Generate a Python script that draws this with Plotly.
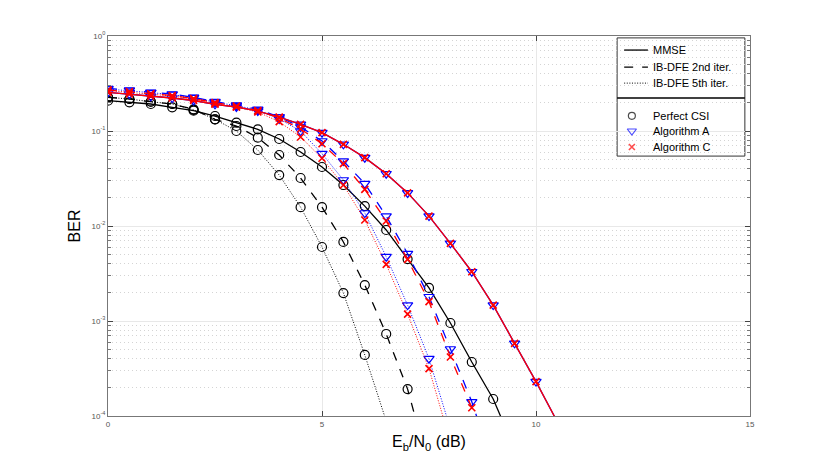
import plotly.graph_objs as go

# Eb/N0 points (dB), every 0.5 dB
snr = [i * 0.5 for i in range(22)]

# perfect CSI (black, circles)
mmse_pcsi = [0.2085, 0.2005, 0.1924, 0.1776, 0.1635, 0.1438, 0.1223, 0.1042, 0.0824, 0.0601,
             0.0418, 0.0270, 0.0162, 0.00908, 0.00449, 0.00223, 0.000953, 0.000370, 0.000151, 0.000045]
ibdfe2_pcsi = [0.2263, 0.2172, 0.2034, 0.1924, 0.1692, 0.1328, 0.1129, 0.0850, 0.0559, 0.0320,
               0.0158, 0.00679, 0.00239, 0.000730, 0.000192, 0.0000284]
ibdfe5_pcsi = [0.2263, 0.2172, 0.2034, 0.1924, 0.1670, 0.1328, 0.1000, 0.0631, 0.0344, 0.0158,
               0.00601, 0.00197, 0.000439, 0.0000886]

# Algorithm A (blue, triangles)
mmse_alg_a = [0.2555, 0.2452, 0.2319, 0.2225, 0.2095, 0.1910, 0.1789, 0.1623, 0.1404, 0.1176, 0.0960,
              0.0724, 0.0524, 0.0355, 0.0223, 0.0127, 0.00657, 0.00330, 0.00147, 0.000582, 0.000230, 0.0000865]
ibdfe2_alg_a = [0.280, 0.270, 0.2555, 0.2452, 0.2263, 0.2034, 0.1878, 0.1692, 0.1404, 0.1102,
                0.0785, 0.0483, 0.0279, 0.0127, 0.00511, 0.00180, 0.000507, 0.000141, 0.0000298]
ibdfe5_alg_a = [0.2768, 0.2669, 0.2530, 0.2422, 0.2241, 0.2010, 0.1846, 0.1664, 0.1338, 0.1000,
                0.0577, 0.0305, 0.0137, 0.00475, 0.00147, 0.000401, 0.0000730]

# Algorithm C (red, crosses)
mmse_alg_c = [0.2555, 0.2452, 0.2319, 0.2225, 0.2095, 0.1910, 0.1789, 0.1623, 0.1404, 0.1176, 0.0960,
              0.0724, 0.0524, 0.0355, 0.0223, 0.0127, 0.00657, 0.00330, 0.00147, 0.000582, 0.000230, 0.0000865]
ibdfe2_alg_c = [0.270, 0.2604, 0.2469, 0.2364, 0.2198, 0.1986, 0.1833, 0.1643, 0.1370, 0.1050,
                0.0735, 0.0453, 0.0243, 0.01129, 0.00446, 0.00160, 0.000418, 0.000122, 0.0000264]
ibdfe5_alg_c = [0.2669, 0.2573, 0.2440, 0.2336, 0.2172, 0.1948, 0.1789, 0.1585, 0.1253, 0.0865,
                0.0516, 0.0270, 0.01156, 0.00395, 0.00118, 0.000315, 0.0000532]

y_ticks = [1e-4, 1e-3, 1e-2, 1e-1, 1]
y_ticktext = ["10<sup>-4</sup>", "10<sup>-3</sup>", "10<sup>-2</sup>", "10<sup>-1</sup>", "10<sup>0</sup>"]
x_ticks = [0, 5, 10, 15]

legend_lines = ["MMSE", "IB-DFE 2nd iter.", "IB-DFE 5th iter."]
legend_marks = ["Perfect CSI", "Algorithm A", "Algorithm C"]

DOT = "1px,1.6px"  # matlab ':' style

fig = go.Figure()

series = [
    (mmse_pcsi, "black", "solid", "circle-open"),
    (ibdfe2_pcsi, "black", "dash", "circle-open"),
    (ibdfe5_pcsi, "black", DOT, "circle-open"),
    (mmse_alg_a, "#0000ff", "solid", "triangle-down-open"),
    (ibdfe2_alg_a, "#0000ff", "dash", "triangle-down-open"),
    (ibdfe5_alg_a, "#0000ff", DOT, "triangle-down-open"),
    (mmse_alg_c, "#ff0000", "solid", "x-thin-open"),
    (ibdfe2_alg_c, "#ff0000", "dash", "x-thin-open"),
    (ibdfe5_alg_c, "#ff0000", DOT, "x-thin-open"),
]
for vals, col, dash, sym in series:
    fig.add_trace(go.Scatter(
        x=snr[:len(vals)], y=vals, mode="lines+markers",
        line=dict(color=col, dash=dash, width=1.3 if dash != DOT else 1),
        marker=dict(symbol=sym, size=9 if sym != "x-thin-open" else 7,
                    color=col, line=dict(color=col, width=1.6 if sym == "x-thin-open" else 1.2)),
        showlegend=False,
    ))

# hand-made legend (two stacked MATLAB legends), paper coordinates
box = dict(x0=0.793, x1=0.992, y0=0.684, y1=0.995)
line_y = [0.963, 0.918, 0.876]
mark_y = [0.790, 0.750, 0.708]
text_x = 0.846

shapes = [dict(type="rect", xref="paper", yref="paper", **box,
               line=dict(color="#333", width=1), fillcolor="white", layer="between")]
for yy, dash in zip(line_y, ["solid", "dash", DOT]):
    shapes.append(dict(type="line", xref="paper", yref="paper", x0=0.804, x1=0.841, y0=yy, y1=yy,
                       line=dict(color="black", width=1.3 if dash != DOT else 1, dash=dash), layer="above"))
shapes.append(dict(type="line", xref="paper", yref="paper", x0=box["x0"], x1=box["x1"], y0=0.837, y1=0.837,
                   line=dict(color="black", width=1.6), layer="above"))

annotations = []
for yy, txt in zip(line_y + mark_y, legend_lines + legend_marks):
    annotations.append(dict(xref="paper", yref="paper", x=text_x, y=yy, text=txt, showarrow=False,
                            xanchor="left", yanchor="middle", font=dict(size=11, color="black")))

fig.add_trace(go.Scatter(
    x=[0.816, 0.816, 0.816], y=mark_y, xaxis="x2", yaxis="y2", mode="markers",
    marker=dict(symbol=["circle-open", "triangle-down-open", "x-thin-open"], size=[7, 8, 6],
                color=["black", "#0000ff", "#ff0000"],
                line=dict(color=["black", "#0000ff", "#ff0000"], width=[1.2, 1.2, 1.6])),
    showlegend=False, hoverinfo="skip", cliponaxis=False,
))

fig.update_layout(
    width=830, height=467,
    margin=dict(l=100, r=88, t=28, b=59),
    paper_bgcolor="white", plot_bgcolor="white",
    font=dict(family="Liberation Sans, Arial", color="black"),
    showlegend=False,
    shapes=shapes, annotations=annotations,
    xaxis=dict(
        range=[0, 15], tickvals=x_ticks, ticks="inside", ticklen=5,
        tickfont=dict(size=8, color="#555"),
        showgrid=True, gridcolor="#e8e8e8", gridwidth=1,
        showline=True, linecolor="#777", mirror="ticks", zeroline=False,
        title=dict(text="E<sub>b</sub>/N<sub>0</sub> (dB)", font=dict(size=16), standoff=8),
    ),
    yaxis=dict(
        type="log", range=[-4, 0], tickvals=y_ticks, ticktext=y_ticktext,
        ticks="inside", ticklen=5, tickfont=dict(size=8, color="#555"),
        showgrid=True, gridcolor="#e8e8e8", gridwidth=1,
        showline=True, linecolor="#777", mirror="ticks", zeroline=False,
        minor=dict(tickvals=[m * 10 ** e for e in range(-4, 0) for m in range(2, 10)],
                   ticks="inside", ticklen=3, tickcolor="#777",
                   showgrid=True, gridcolor="#d4d4d4", griddash="1px,3px", gridwidth=1),
        title=dict(text="BER", font=dict(size=16), standoff=6),
    ),
    xaxis2=dict(overlaying="x", range=[0, 1], visible=False, fixedrange=True),
    yaxis2=dict(overlaying="y", range=[0, 1], visible=False, fixedrange=True),
)

fig.write_html("out.html")
